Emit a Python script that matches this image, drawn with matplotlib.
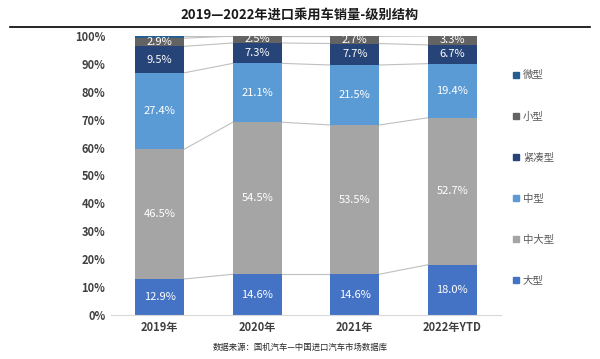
import numpy as np
import matplotlib
matplotlib.use('Agg')
import matplotlib.pyplot as plt
from matplotlib.lines import Line2D

plt.rcParams['font.family'] = ['Noto Sans CJK SC', 'DejaVu Sans']

years = ['2019年', '2020年', '2021年', '2022年YTD']
large = [12.9, 14.6, 14.6, 18.0]
mid_large = [46.5, 54.5, 53.5, 52.7]
mid = [27.4, 21.1, 21.5, 19.4]
compact = [9.5, 7.3, 7.7, 6.7]
small = [2.9, 2.5, 2.7, 3.3]
micro = [0.8, 0.0, 0.0, 0.0]

series = [
    ('大型', large, '#4472C4'),
    ('中大型', mid_large, '#A5A5A5'),
    ('中型', mid, '#5B9BD5'),
    ('紧凑型', compact, '#264478'),
    ('小型', small, '#636363'),
    ('微型', micro, '#255E91'),
]

fig = plt.figure(figsize=(6, 3.59), dpi=100)
ax = fig.add_axes([0.185, 0.1226, 0.65, 0.7771])

x = np.arange(len(years))
w = 0.5
bottom = np.zeros(len(years))
for name, vals, col in series:
    vals = np.array(vals)
    ax.bar(x, vals, w, bottom=bottom, color=col, label=name, zorder=2)
    for i, v in enumerate(vals):
        if v >= 2:
            ax.text(x[i], bottom[i] + v / 2, f'{v:.1f}%', ha='center', va='center',
                    color='white', fontsize=8, zorder=3)
    bottom = bottom + vals
    # series lines between bars
    for i in range(len(years) - 1):
        ax.plot([x[i] + w / 2, x[i + 1] - w / 2], [bottom[i], bottom[i + 1]],
                color='#BFBFBF', lw=0.8, zorder=1)

ax.set_xlim(-0.5, 3.5)
ax.set_ylim(0, 100)
ax.set_yticks(np.arange(0, 101, 10))
ax.set_yticklabels([f'{t}%' for t in range(0, 101, 10)], fontsize=8, fontweight='bold', color='#404040')
ax.set_xticks(x)
ax.set_xticklabels(years, fontsize=8, fontweight='bold', color='#404040')
ax.tick_params(length=0, pad=4)
for s in ['top', 'right', 'left']:
    ax.spines[s].set_visible(False)
ax.spines['bottom'].set_color('#D9D9D9')

# legend
handles = [Line2D([0], [0], marker='s', ls='', color=c, markersize=5) for _, _, c in series[::-1]]
labels = [n for n, _, _ in series[::-1]]
fig.legend(handles, labels, loc='upper left', bbox_to_anchor=(0.835, 0.83), frameon=False,
           fontsize=7.5, labelcolor='#595959', labelspacing=2.98, handletextpad=0.2,
           handlelength=1.0)

fig.text(0.5, 0.96, '2019—2022年进口乘用车销量-级别结构', ha='center', va='center',
         fontsize=9.5, fontweight='bold', color='#1a1a1a')
fig.add_artist(Line2D([0.017, 0.983], [0.925, 0.925], color='black', lw=1.2))
fig.text(0.5, 0.033, '数据来源：国机汽车—中国进口汽车市场数据库', ha='center', va='center',
         fontsize=6, color='#262626')

fig.savefig('out.png', dpi=100)
